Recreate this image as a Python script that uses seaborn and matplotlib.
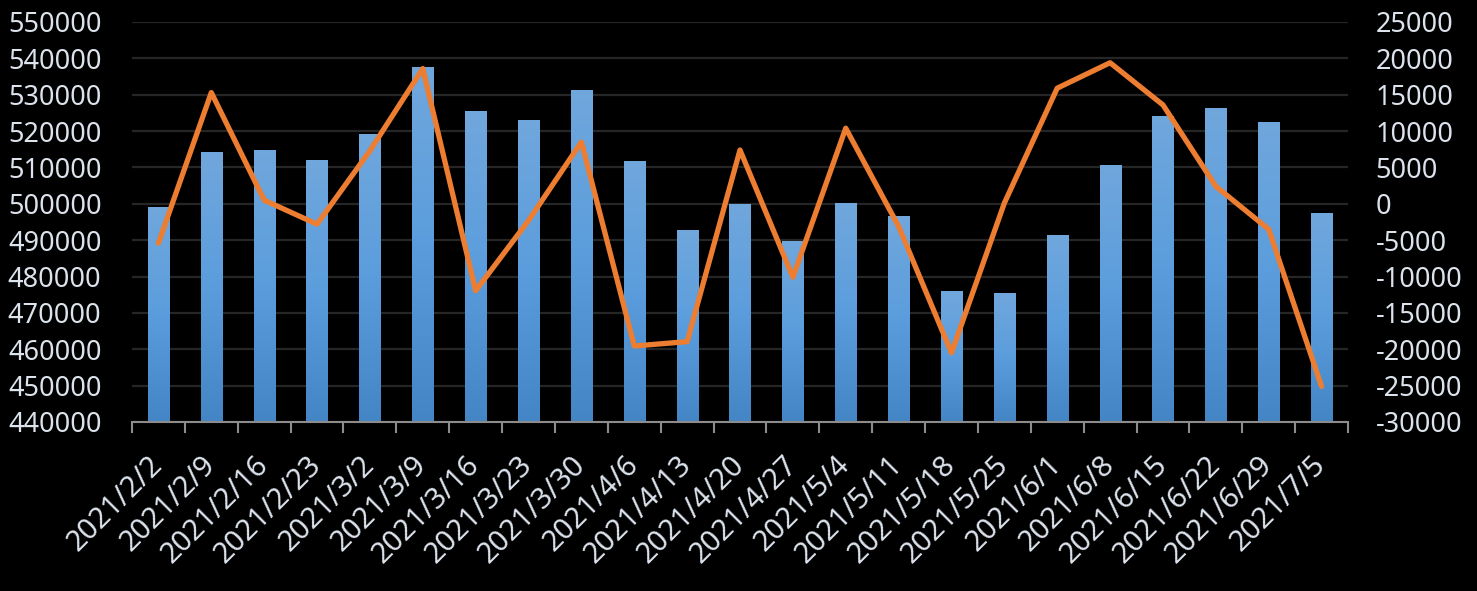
import numpy as np
import pandas as pd
import matplotlib
matplotlib.use("Agg")
import matplotlib.pyplot as plt
import seaborn as sns
from matplotlib.colors import LinearSegmentedColormap

dates = ["2021/2/2", "2021/2/9", "2021/2/16", "2021/2/23", "2021/3/2", "2021/3/9",
         "2021/3/16", "2021/3/23", "2021/3/30", "2021/4/6", "2021/4/13", "2021/4/20",
         "2021/4/27", "2021/5/4", "2021/5/11", "2021/5/18", "2021/5/25", "2021/6/1",
         "2021/6/8", "2021/6/15", "2021/6/22", "2021/6/29", "2021/7/5"]
bar_values = [499100, 514250, 514800, 512050, 519200, 537600,
              525500, 523050, 531300, 511800, 492800, 499950,
              489800, 500200, 496650, 476000, 475500, 491400,
              510700, 524150, 526350, 522500, 497500]
line_values = [-5400, 15300, 500, -2800, 7300, 18600,
               -11950, -2300, 8500, -19550, -18950, 7400,
               -10100, 10400, -3100, -20500, 100, 15900,
               19400, 13600, 2400, -3500, -25100]
left_ticks = list(range(440000, 550001, 10000))
right_ticks = list(range(-30000, 25001, 5000))

TEXT = "#DCE3EC"
sns.set_theme(style="dark")
plt.rcParams["font.family"] = ["Noto Sans", "DejaVu Sans"]

fig = plt.figure(figsize=(14.77, 5.91), dpi=100, facecolor="black")
ax = fig.add_axes([132/1477, 1-422/591, (1348-132)/1477, 400/591])
ax.set_facecolor("black")

df = pd.DataFrame({"date": dates, "value": bar_values})
sns.barplot(data=df, x="date", y="value", color="#5B9BD5", width=0.4,
            saturation=1, ax=ax, zorder=2, edgecolor="none", linewidth=0)
ax.set_ylim(440000, 550000)
ax.set_xlim(-0.5, len(dates) - 0.5)

# gradient fill for bars
cmap = LinearSegmentedColormap.from_list("g", ["#4385C5", "#5B9DDC", "#70A7DD"])
grad = np.linspace(0, 1, 256).reshape(-1, 1)
for p in list(ax.patches):
    x0, y0 = p.get_x(), p.get_y()
    w, h = p.get_width(), p.get_height()
    y_lo = max(y0, 440000)
    im = ax.imshow(grad, cmap=cmap, origin="lower", aspect="auto",
                   extent=[x0, x0 + w, y_lo, y0 + h], zorder=2.1)
    im.set_clip_path(p)
ax.set_xlim(-0.5, len(dates) - 0.5)
ax.set_ylim(440000, 550000)

ax.set_yticks(left_ticks)
ax.set_yticklabels([str(v) for v in left_ticks])
ax.set_axisbelow(True)
ax.yaxis.grid(True, color="#262626", lw=1.6, zorder=0)
ax.xaxis.grid(False)
ax.set_xlabel("")
ax.set_ylabel("")
for s in ["top", "left", "right"]:
    ax.spines[s].set_visible(False)
ax.spines["bottom"].set_visible(True)
ax.spines["bottom"].set_color("#8C8C8C")
ax.spines["bottom"].set_linewidth(1.5)
ax.spines["bottom"].set_zorder(5)

ax.set_xticks(np.arange(len(dates)))
ax.set_xticklabels(dates, rotation=45, ha="right", va="center",
                   rotation_mode="anchor")
ax.tick_params(axis="x", length=0, pad=28, labelsize=21, colors=TEXT)
ax.set_xticks(np.arange(len(dates) + 1) - 0.5, minor=True)
ax.tick_params(axis="x", which="minor", length=8, width=1.5, color="#8C8C8C",
               direction="out", bottom=True)
ax.tick_params(axis="y", length=0, pad=22, labelsize=19.5, colors=TEXT)

ax2 = ax.twinx()
ax2.set_facecolor("none")
sns.lineplot(x=np.arange(len(dates)), y=line_values, color="#ED7D31", lw=3.8,
             ax=ax2, zorder=4, solid_joinstyle="round", solid_capstyle="round")
ax2.set_ylim(-30000, 25000)
ax2.set_yticks(right_ticks)
ax2.set_yticklabels([str(v) for v in right_ticks])
ax2.tick_params(axis="y", length=0, pad=20, labelsize=19.5, colors=TEXT)
ax2.grid(False)
for s in ax2.spines.values():
    s.set_visible(False)
ax2.set_xlim(-0.5, len(dates) - 0.5)

fig.savefig("out.png", dpi=100, facecolor="black")
